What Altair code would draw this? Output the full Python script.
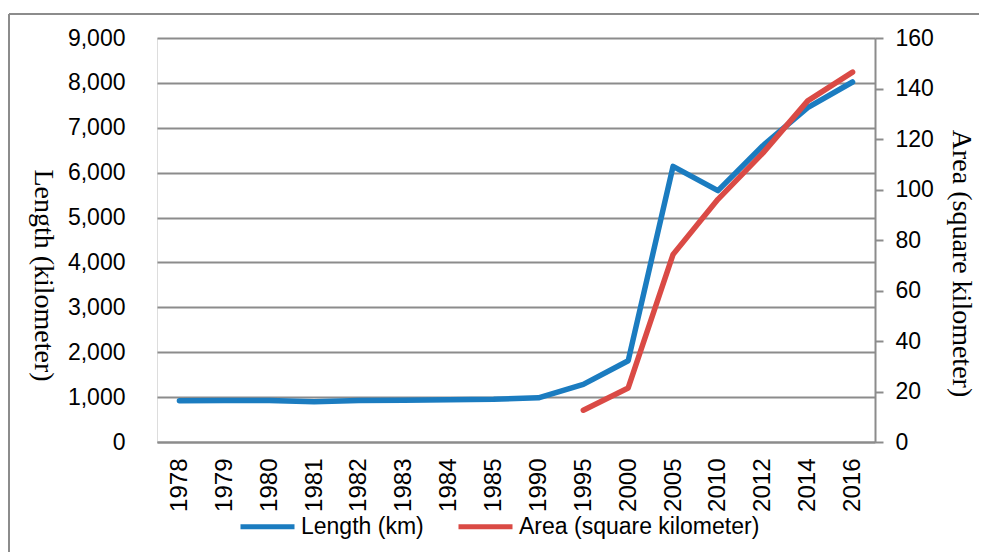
import altair as alt
import pandas as pd

years = ["1978", "1979", "1980", "1981", "1982", "1983", "1984", "1985",
         "1990", "1995", "2000", "2005", "2010", "2012", "2014", "2016"]
length_km = [918, 925, 925, 896, 925, 930, 940, 950, 985, 1283, 1810,
             6140, 5600, 6600, 7450, 8020]
area_years = ["1995", "2000", "2005", "2010", "2012", "2014", "2016"]
area_km2 = [12.6, 21.4, 74.3, 96.1, 114.4, 135.1, 146.5]

S_LEN = "Length (km)"
S_AREA = "Area (square kilometer)"

df_len = pd.DataFrame({"year": years, "value": length_km, "series": S_LEN})
df_area = pd.DataFrame({"year": area_years, "value": area_km2, "series": S_AREA})

GRID = "#8c8c8c"
SANS = "Liberation Sans"
SERIF = "Liberation Serif"

x_enc = alt.X(
    "year:O", sort=years,
    scale=alt.Scale(type="point", padding=0.5, domain=years),
    axis=alt.Axis(title=None, labelAngle=-90, labelFont=SANS, labelFontSize=24,
                  labelColor="black", labelPadding=16, ticks=False,
                  domain=True, domainColor=GRID, domainWidth=2, grid=False),
)

color_enc = alt.Color(
    "series:N",
    scale=alt.Scale(domain=[S_LEN, S_AREA], range=["#1B7CC0", "#DA4A45"]),
    legend=alt.Legend(
        title=None, orient="none", direction="horizontal",
        legendX=81, legendY=459, symbolType="stroke", symbolSize=2916,
        symbolStrokeWidth=5, labelFont=SANS, labelFontSize=23, labelLimit=500,
        labelColor="black", labelOffset=4, columnPadding=24,
    ),
)

len_line = alt.Chart(df_len).mark_line(strokeWidth=5.5, strokeCap="round", strokeJoin="round").encode(
    x=x_enc,
    y=alt.Y("value:Q",
            scale=alt.Scale(domain=[0, 9000], nice=False),
            axis=alt.Axis(title="Length (kilometer)", values=list(range(0, 9001, 1000)),
                          format=",.0f", grid=True, gridColor=GRID, gridWidth=2,
                          domain=False, ticks=False, labelPadding=32,
                          labelFont=SANS, labelFontSize=23, labelColor="black",
                          titleFont=SERIF, titleFontSize=28, titleFontWeight="normal",
                          titleColor="black", titleAngle=90, titleX=-115, titleY=237,
                          titleAlign="center", titleBaseline="middle")),
    color=color_enc,
)

area_line = alt.Chart(df_area).mark_line(strokeWidth=5.5, strokeCap="round", strokeJoin="round").encode(
    x=x_enc,
    y=alt.Y("value:Q",
            scale=alt.Scale(domain=[0, 160], nice=False),
            axis=alt.Axis(title="Area (square kilometer)", orient="right",
                          values=list(range(0, 161, 20)), format=".0f", grid=False,
                          domain=True, domainColor=GRID, domainWidth=2,
                          ticks=True, tickColor=GRID, tickWidth=2, tickSize=8,
                          labelPadding=12, labelFont=SANS, labelFontSize=23,
                          labelColor="black",
                          titleFont=SERIF, titleFontSize=28, titleFontWeight="normal",
                          titleColor="black", titleAngle=90, titleX=85, titleY=225,
                          titleAlign="center", titleBaseline="middle")),
    color=color_enc,
)

frame_df = pd.DataFrame({"k": [0]})
frame_top = alt.Chart(frame_df).mark_rule(color="#8c8c8c", strokeWidth=2).encode(
    x=alt.value(-148), x2=alt.value(840), y=alt.value(-24))
frame_left = alt.Chart(frame_df).mark_rule(color="#8c8c8c", strokeWidth=2).encode(
    x=alt.value(-148), y=alt.value(-24), y2=alt.value(530))

chart = alt.layer(len_line, area_line, frame_top, frame_left).resolve_scale(
    y="independent", color="shared"
).properties(
    width=718, height=404,
    autosize=alt.AutoSizeParams(type="none"),
    padding={"left": 149, "top": 30, "right": 104, "bottom": 110},
).configure_view(stroke=None).configure(background="white")

chart.save("out.html", embed_options={"renderer": "svg", "actions": False})
